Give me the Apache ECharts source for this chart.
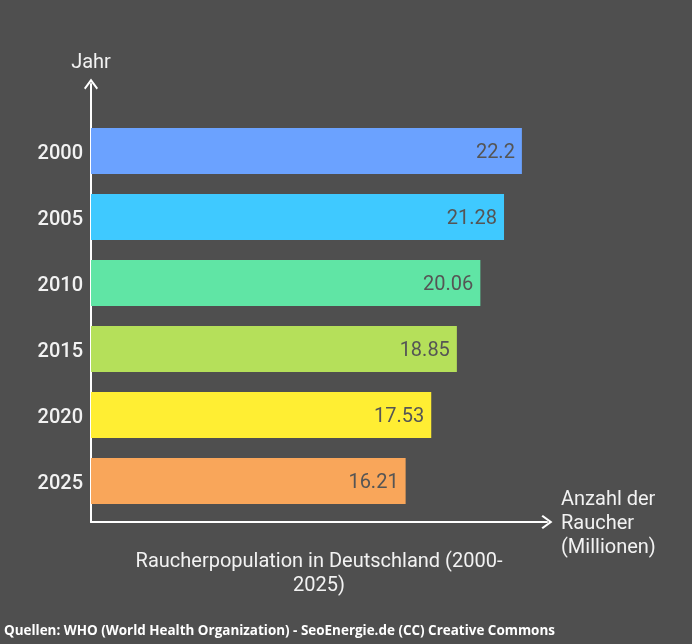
<!DOCTYPE html>
<html>
<head>
<meta charset="utf-8">
<title>Raucherpopulation in Deutschland</title>
<script src="https://cdn.jsdelivr.net/npm/echarts@6/dist/echarts.min.js"></script>
<style>
  html, body { margin: 0; padding: 0; background: #4f4f4f; }
  #main { width: 692px; height: 644px; outline: 1px solid #333; outline-offset: -1px; }
</style>
</head>
<body>
<div id="main"></div>
<script>
var years = ['2000', '2005', '2010', '2015', '2020', '2025'];
var smokers = [22.2, 21.28, 20.06, 18.85, 17.53, 16.21];
var barColors = ['#6ba2ff', '#3fc9ff', '#60e5a5', '#b5e05a', '#ffee33', '#f9a65a'];
var chartTitle = 'Raucherpopulation in Deutschland (2000-\n2025)';
var sourceText = 'Quellen: WHO (World Health Organization) - SeoEnergie.de (CC) Creative Commons';
var xName = 'Anzahl der\nRaucher\n(Millionen)';
var yName = 'Jahr';

var font = 'Roboto, sans-serif';
var textColor = '#f2f2f2';
// open arrow head, the filled default does not look like the original
var chevron = 'path://M1.4 11 L0 9.6 L7 0 L14 9.6 L12.6 11 L7 3.4 Z';

var barData = smokers.map(function (v, i) {
  return { value: v, itemStyle: { color: barColors[i] } };
});

var myChart = echarts.init(document.getElementById('main'), null, { renderer: 'canvas' });
var option = {
  backgroundColor: '#4f4f4f',
  animation: false,
  title: [
    {
      text: chartTitle,
      left: 314,
      top: 545,
      textAlign: 'center',
      textStyle: { color: textColor, fontFamily: font, fontSize: 20, fontWeight: 400, lineHeight: 24, align: 'center' }
    },
    {
      text: sourceText,
      left: 4,
      top: 625,
      padding: 0,
      textStyle: { color: '#ffffff', fontFamily: '"Open Sans", sans-serif', fontSize: 13.45, fontWeight: 700 }
    },
    // axis name as a title, nameTextStyle padding did not move it
    {
      text: xName,
      left: 561,
      top: 488,
      padding: 0,
      textStyle: { color: textColor, fontFamily: font, fontSize: 20, fontWeight: 400, lineHeight: 24 }
    }
  ],
  grid: [
    // bars
    { left: 91, top: 118, width: 460, height: 396 },
    // arrows only, they run past the bars on both ends
    { left: 91, top: 84, width: 456, height: 438 }
  ],
  xAxis: [
    { gridIndex: 0, type: 'value', min: 0, max: 23.7, show: false },
    {
      gridIndex: 1, type: 'value', min: 0, max: 1,
      axisLine: { show: true, symbol: ['none', chevron], symbolSize: [14, 11], lineStyle: { color: '#fff', width: 2 } },
      axisTick: { show: false },
      axisLabel: { show: false },
      splitLine: { show: false }
    }
  ],
  yAxis: [
    {
      gridIndex: 0, type: 'category', inverse: true, data: years,
      axisLine: { show: false },
      axisTick: { show: false },
      axisLabel: { color: textColor, fontFamily: font, fontSize: 20, fontWeight: 500, margin: 8, verticalAlign: 'top', lineHeight: 5 }
    },
    {
      gridIndex: 1, type: 'value', min: 0, max: 1,
      name: yName,
      nameLocation: 'end',
      nameGap: 11,
      nameTextStyle: { color: textColor, fontFamily: font, fontSize: 20 },
      axisLine: { show: true, symbol: ['none', chevron], symbolSize: [14, 11], lineStyle: { color: '#fff', width: 2 } },
      axisTick: { show: false },
      axisLabel: { show: false },
      splitLine: { show: false }
    }
  ],
  series: [
    {
      type: 'bar',
      xAxisIndex: 0,
      yAxisIndex: 0,
      barWidth: 46,
      data: barData,
      label: {
        show: true,
        position: 'insideRight',
        distance: 7,
        offset: [0, 2],
        color: '#555555',
        fontFamily: font,
        fontSize: 20
      }
    }
  ]
};
myChart.setOption(option);
</script>
</body>
</html>
